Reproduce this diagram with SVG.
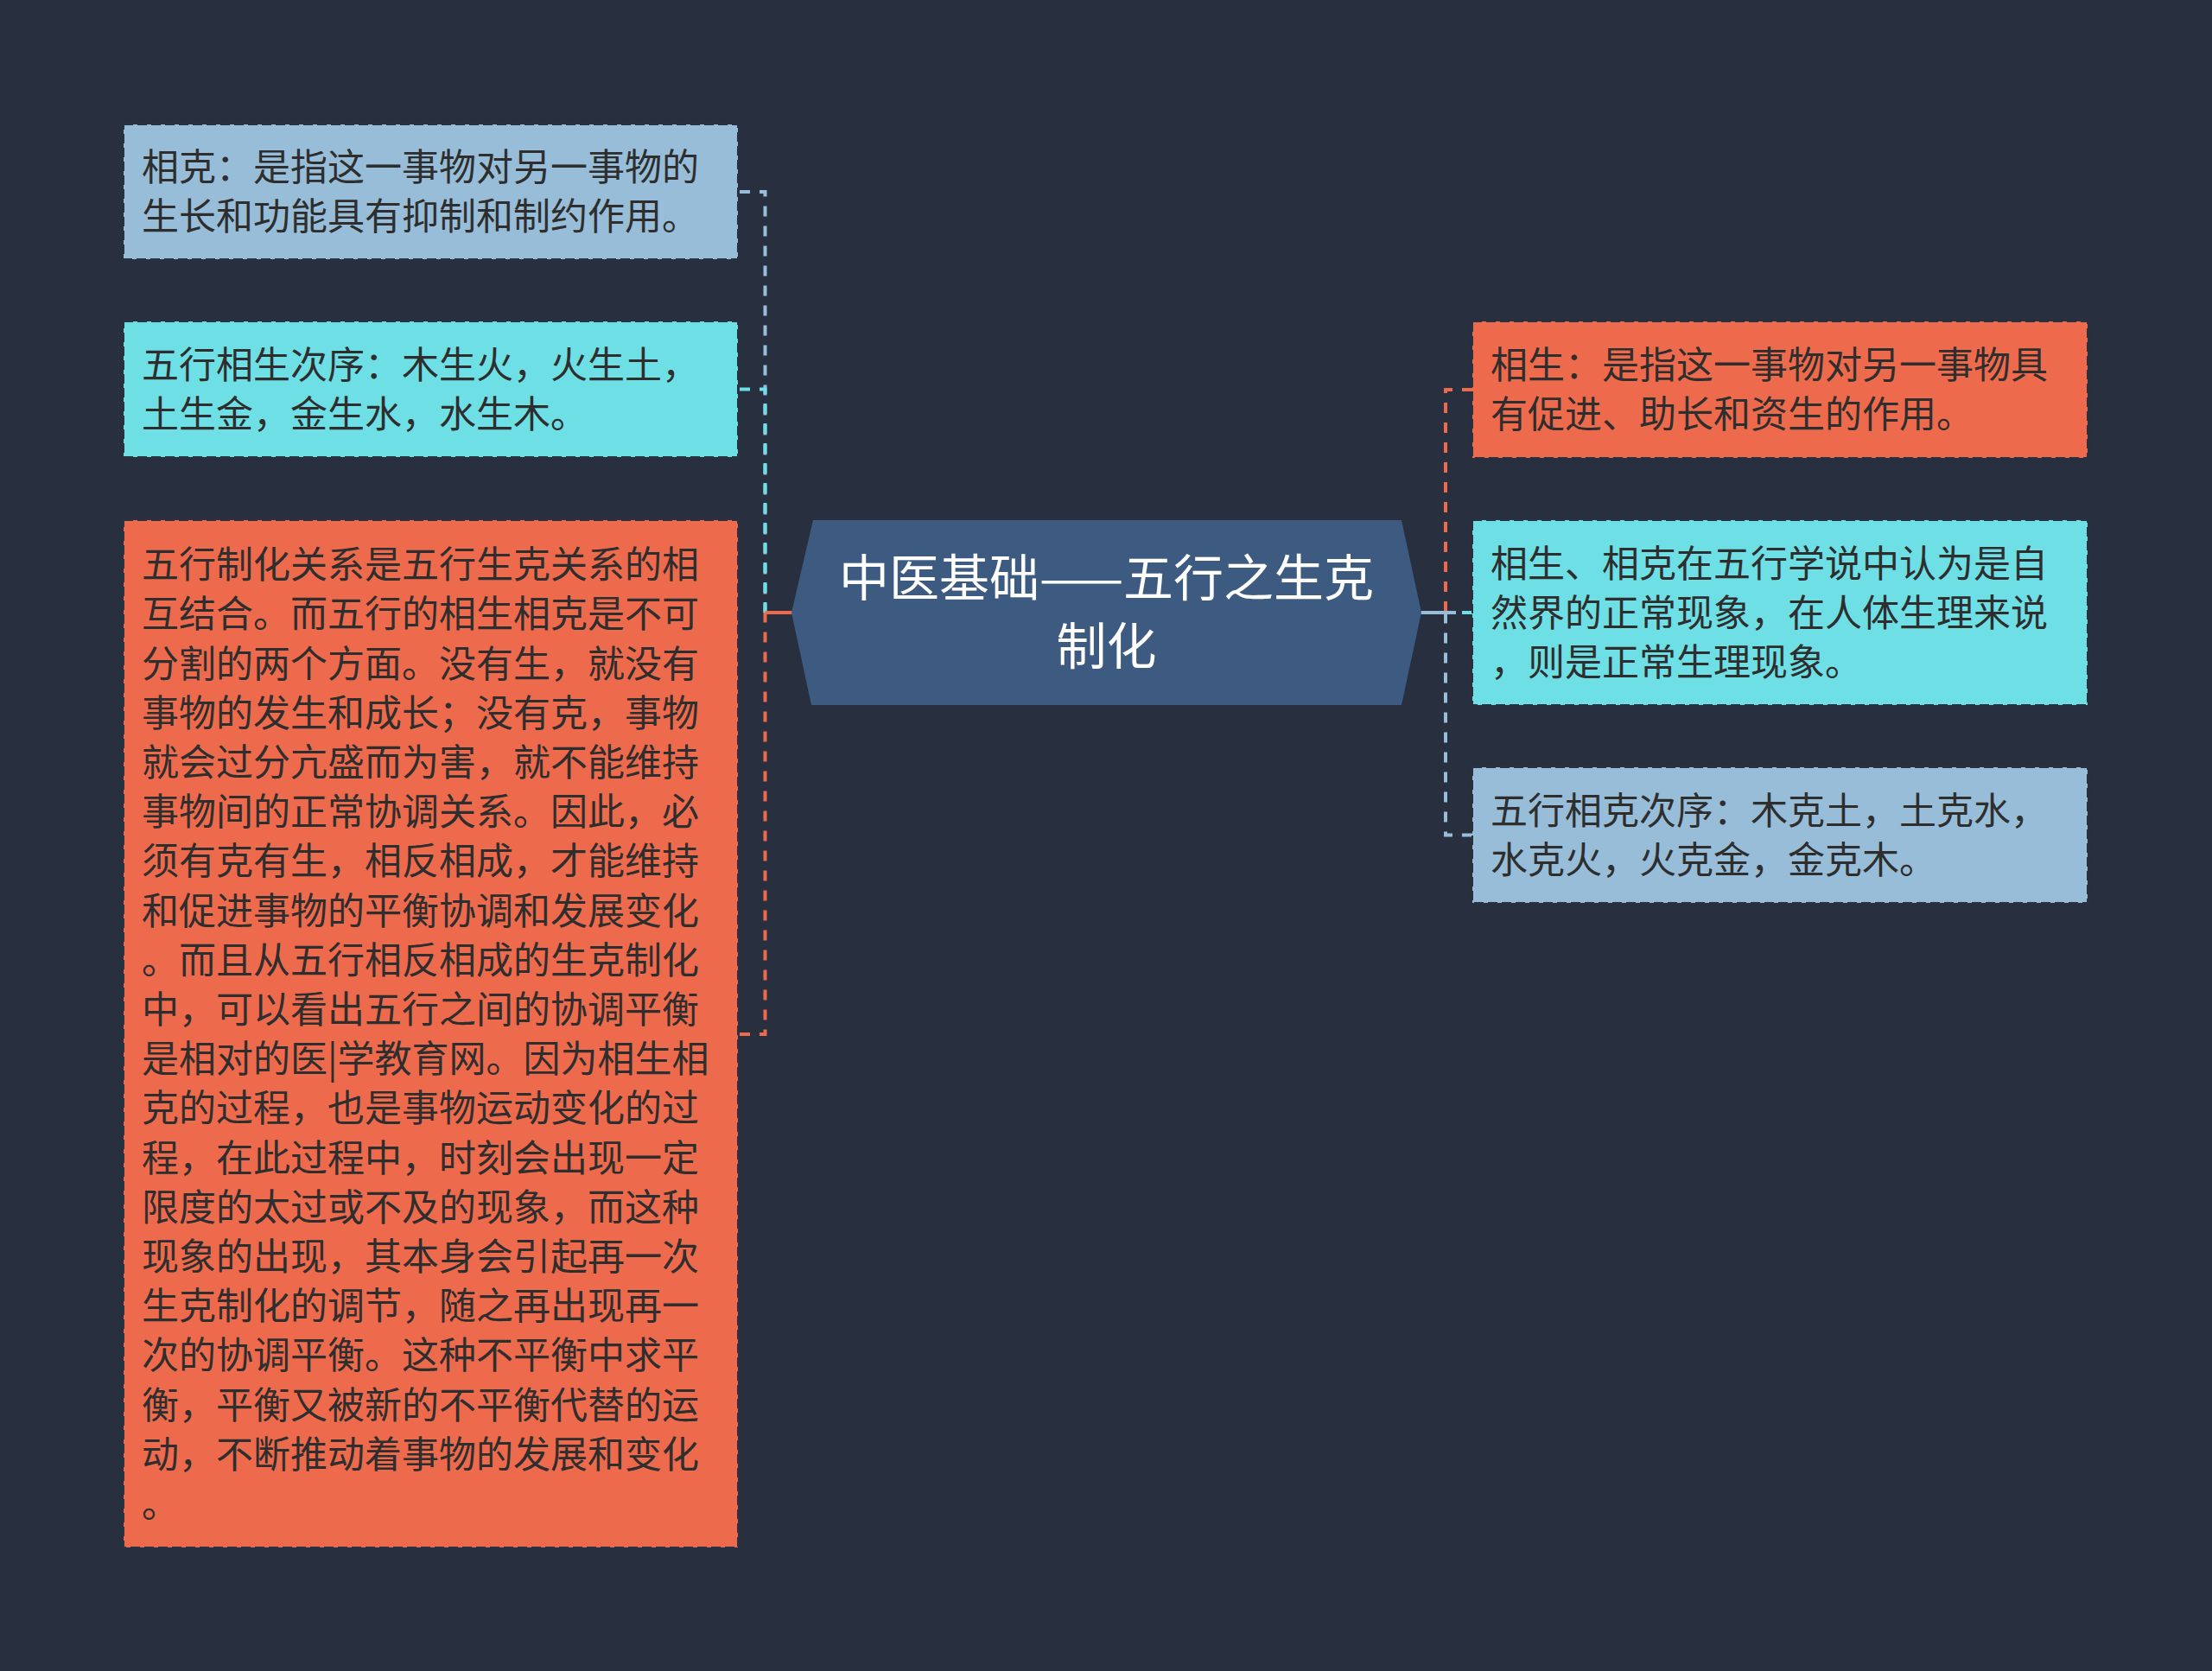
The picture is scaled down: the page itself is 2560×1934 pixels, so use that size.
<svg xmlns="http://www.w3.org/2000/svg" width="2560" height="1934" viewBox="0 0 2560 1934">
<style>
.bg{fill:#282f3e}
.box{stroke:#2a3241;stroke-width:2;stroke-dasharray:11 5}
.lb{fill:#97bdd8}
.cy{fill:#6ddfe5}
.or{fill:#ee6a4c}
.t{font-family:"Noto Sans CJK SC","Noto Sans",sans-serif;font-size:43px;fill:#2e2e2e}
.ct{font-family:"Noto Sans CJK SC","Noto Sans",sans-serif;font-size:58px;fill:#ffffff;text-anchor:middle}
.c{fill:none;stroke-width:4;stroke-dasharray:12 11}
.s{fill:none;stroke-width:4}
.clb{stroke:#97bdd8}
.ccy{stroke:#6ddfe5}
.cor{stroke:#ee6a4c}
</style>
<rect class="bg" x="0" y="0" width="2560" height="1934"/>
<g id="connectors">
<path class="c clb" d="M856,222 H885.5 V709"/>
<path class="c ccy" d="M856,450.5 H885.5 V709"/>
<path class="c cor" d="M856,1197 H885.5 V709"/>
<path class="s cor" d="M885.5,709 H918"/>
<path class="c cor" d="M1704,451 H1673 V709"/>
<path class="c ccy" d="M1704,709 H1673"/>
<path class="c clb" d="M1704,966.5 H1673 V709"/>
<path class="s clb" d="M1642,709 H1685"/>
</g>
<g id="center">
<polygon points="941,602 1622,602 1645,709 1622,816 939,816 916,709" fill="#3d5a80"/>
<text class="ct"><tspan x="1280.5" y="690">中医基础——五行之生克</tspan><tspan x="1280.5" y="769">制化</tspan></text>
</g>
<g id="node-l1">
<rect class="box lb" x="143" y="144" width="711" height="156"/>
<text class="t"><tspan x="164" y="209.2">相克：是指这一事物对另一事物的</tspan><tspan x="164" y="266.4">生长和功能具有抑制和制约作用。</tspan></text>
</g>
<g id="node-l2">
<rect class="box cy" x="143" y="372" width="711" height="157"/>
<text class="t"><tspan x="164" y="437.6">五行相生次序：木生火，火生土，</tspan><tspan x="164" y="494.8">土生金，金生水，水生木。</tspan></text>
</g>
<g id="node-l3">
<rect class="box or" x="143" y="602" width="711" height="1189"/>
<text class="t">
<tspan x="164" y="669.1">五行制化关系是五行生克关系的相</tspan>
<tspan x="164" dy="57.2">互结合。而五行的相生相克是不可</tspan>
<tspan x="164" dy="57.2">分割的两个方面。没有生，就没有</tspan>
<tspan x="164" dy="57.2">事物的发生和成长；没有克，事物</tspan>
<tspan x="164" dy="57.2">就会过分亢盛而为害，就不能维持</tspan>
<tspan x="164" dy="57.2">事物间的正常协调关系。因此，必</tspan>
<tspan x="164" dy="57.2">须有克有生，相反相成，才能维持</tspan>
<tspan x="164" dy="57.2">和促进事物的平衡协调和发展变化</tspan>
<tspan x="164" dy="57.2">。而且从五行相反相成的生克制化</tspan>
<tspan x="164" dy="57.2">中，可以看出五行之间的协调平衡</tspan>
<tspan x="164" dy="57.2">是相对的医|学教育网。因为相生相</tspan>
<tspan x="164" dy="57.2">克的过程，也是事物运动变化的过</tspan>
<tspan x="164" dy="57.2">程，在此过程中，时刻会出现一定</tspan>
<tspan x="164" dy="57.2">限度的太过或不及的现象，而这种</tspan>
<tspan x="164" dy="57.2">现象的出现，其本身会引起再一次</tspan>
<tspan x="164" dy="57.2">生克制化的调节，随之再出现再一</tspan>
<tspan x="164" dy="57.2">次的协调平衡。这种不平衡中求平</tspan>
<tspan x="164" dy="57.2">衡，平衡又被新的不平衡代替的运</tspan>
<tspan x="164" dy="57.2">动，不断推动着事物的发展和变化</tspan>
<tspan x="164" dy="57.2">。</tspan>
</text>
</g>
<g id="node-r1">
<rect class="box or" x="1704" y="372" width="712" height="158"/>
<text class="t"><tspan x="1725" y="438.1">相生：是指这一事物对另一事物具</tspan><tspan x="1725" y="495.3">有促进、助长和资生的作用。</tspan></text>
</g>
<g id="node-r2">
<rect class="box cy" x="1704" y="602" width="712" height="214"/>
<text class="t"><tspan x="1725" y="667.5">相生、相克在五行学说中认为是自</tspan><tspan x="1725" y="724.7">然界的正常现象，在人体生理来说</tspan><tspan x="1725" y="781.9">，则是正常生理现象。</tspan></text>
</g>
<g id="node-r3">
<rect class="box lb" x="1704" y="888" width="712" height="157"/>
<text class="t"><tspan x="1725" y="953.6">五行相克次序：木克土，土克水，</tspan><tspan x="1725" y="1010.8">水克火，火克金，金克木。</tspan></text>
</g>
</svg>
